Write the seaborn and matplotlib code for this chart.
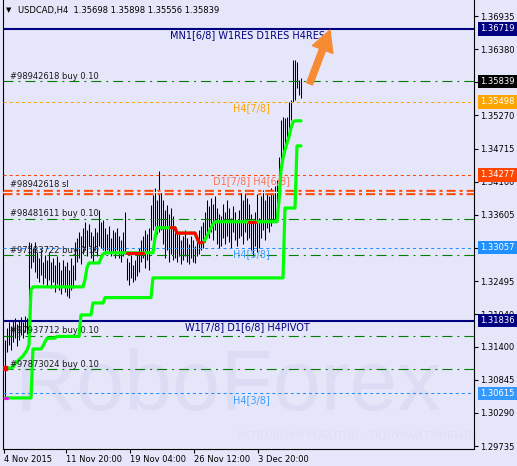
import numpy as np
import pandas as pd
import matplotlib
matplotlib.use("Agg")
import matplotlib.pyplot as plt
import matplotlib.transforms as mtransforms
import seaborn as sns

# ---------------- data ----------------
title_text = "USDCAD,H4  1.35698 1.35898 1.35556 1.35839"

bar_high = [
    1.3151, 1.3171, 1.3181, 1.3174, 1.3184, 1.3188, 1.3178, 1.3184, 1.3189, 1.3181,
    1.3191, 1.3188, 1.3315, 1.3314, 1.3305, 1.3315, 1.3298, 1.3288, 1.3302, 1.3282,
    1.3293, 1.3285, 1.3298, 1.3282, 1.3288, 1.3277, 1.3292, 1.3282, 1.3268, 1.3285,
    1.3275, 1.3282, 1.3268, 1.3288, 1.3277, 1.3315, 1.3322, 1.3332, 1.3325, 1.3339,
    1.3349, 1.3335, 1.3345, 1.3332, 1.3325, 1.3339, 1.3332, 1.3369, 1.3349, 1.3352,
    1.3339, 1.3329, 1.3342, 1.3322, 1.3335, 1.3332, 1.3339, 1.3325, 1.3319, 1.3332,
    1.3365, 1.3288, 1.3282, 1.3293, 1.3277, 1.3285, 1.3298, 1.3305, 1.3319, 1.3325,
    1.3335, 1.3329, 1.3339, 1.3377, 1.3394, 1.3405, 1.3385, 1.3434, 1.3399, 1.3385,
    1.3369, 1.3377, 1.3362, 1.3372, 1.3359, 1.3339, 1.3329, 1.3332, 1.3319, 1.3325,
    1.3335, 1.3322, 1.3312, 1.3325, 1.3319, 1.3308, 1.3322, 1.3335, 1.3342, 1.3349,
    1.3365, 1.3385, 1.3375, 1.3389, 1.3379, 1.3392, 1.3372, 1.3362, 1.3359, 1.3379,
    1.3365, 1.3385, 1.3372, 1.3355, 1.3375, 1.3365, 1.3352, 1.3369, 1.3399, 1.3385,
    1.3402, 1.3389, 1.3379, 1.3362, 1.3352, 1.3365, 1.3395, 1.3355, 1.3392, 1.3402,
    1.3385, 1.3399, 1.3392, 1.3405, 1.3395, 1.3409, 1.3419, 1.3457, 1.3519, 1.3524,
    1.3523, 1.3524, 1.3549, 1.3553, 1.3620, 1.3620, 1.3617, 1.3586, 1.35898,
]
bar_low = [
    1.3054, 1.3131, 1.3143, 1.3134, 1.3148, 1.3154, 1.3141, 1.3151, 1.3159, 1.3154,
    1.3164, 1.3161, 1.3181, 1.3272, 1.3282, 1.3265, 1.3255, 1.3248, 1.3260, 1.3245,
    1.3255, 1.3242, 1.3252, 1.3238, 1.3248, 1.3231, 1.3245, 1.3235, 1.3228, 1.3243,
    1.3231, 1.3225, 1.3222, 1.3235, 1.3238, 1.3252, 1.3282, 1.3288, 1.3278, 1.3295,
    1.3302, 1.3292, 1.3308, 1.3288, 1.3282, 1.3302, 1.3292, 1.3308, 1.3305, 1.3302,
    1.3295, 1.3302, 1.3298, 1.3292, 1.3298, 1.3288, 1.3302, 1.3288, 1.3282, 1.3292,
    1.3295, 1.3252, 1.3243, 1.3255, 1.3248, 1.3252, 1.3258, 1.3265, 1.3282, 1.3288,
    1.3272, 1.3285, 1.3268, 1.3319, 1.3335, 1.3342, 1.3329, 1.3332, 1.3335, 1.3312,
    1.3288, 1.3302, 1.3282, 1.3295, 1.3285, 1.3288, 1.3282, 1.3292, 1.3278, 1.3285,
    1.3292, 1.3282, 1.3278, 1.3288, 1.3282, 1.3280, 1.3292, 1.3295, 1.3302, 1.3305,
    1.3315, 1.3325, 1.3322, 1.3332, 1.3319, 1.3335, 1.3312, 1.3305, 1.3308, 1.3322,
    1.3312, 1.3325, 1.3315, 1.3305, 1.3332, 1.3319, 1.3308, 1.3322, 1.3325, 1.3312,
    1.3332, 1.3319, 1.3322, 1.3302, 1.3292, 1.3308, 1.3298, 1.3305, 1.3322, 1.3335,
    1.3319, 1.3339, 1.3332, 1.3342, 1.3349, 1.3352, 1.3362, 1.3385, 1.3432, 1.3452,
    1.3469, 1.3491, 1.3493, 1.3519, 1.3549, 1.3553, 1.3573, 1.3561, 1.35556,
]

fast_stop = [
    1.3104, 1.3104, 1.3104, 1.3104, 1.3106, 1.3111, 1.3114, 1.3118, 1.3121, 1.3124,
    1.3129, 1.3134, 1.3143, 1.3235, 1.3240, 1.3240, 1.3240, 1.3240, 1.3240, 1.3240,
    1.3240, 1.3240, 1.3240, 1.3240, 1.3240, 1.3240, 1.3240, 1.3240, 1.3240, 1.3240,
    1.3240, 1.3240, 1.3240, 1.3240, 1.3240, 1.3240, 1.3240, 1.3240, 1.3240, 1.3240,
    1.3252, 1.3272, 1.3280, 1.3280, 1.3280, 1.3280, 1.3280, 1.3280, 1.3288, 1.3295,
    1.3297, 1.3297, 1.3297, 1.3297, 1.3297, 1.3297, 1.3297, 1.3297, 1.3297, 1.3297,
    1.3297, 1.3297, 1.3297, 1.3297, 1.3297, 1.3297, 1.3297, 1.3297, 1.3297, 1.3297,
    1.3297, 1.3297, 1.3297, 1.3297, 1.3297, 1.3322, 1.3339, 1.3339, 1.3339, 1.3339,
    1.3339, 1.3339, 1.3339, 1.3339, 1.3339, 1.3339, 1.3330, 1.3330, 1.3330, 1.3330,
    1.3330, 1.3330, 1.3330, 1.3330, 1.3330, 1.3330, 1.3322, 1.3314, 1.3314, 1.3314,
    1.3319, 1.3325, 1.3332, 1.3339, 1.3345, 1.3349, 1.3349, 1.3349, 1.3349, 1.3349,
    1.3349, 1.3349, 1.3349, 1.3349, 1.3349, 1.3349, 1.3349, 1.3349, 1.3349, 1.3349,
    1.3349, 1.3349, 1.3349, 1.3349, 1.3349, 1.3349, 1.3349, 1.3349, 1.3349, 1.3349,
    1.3349, 1.3349, 1.3349, 1.3349, 1.3349, 1.3349, 1.3349, 1.3385, 1.3435, 1.3456,
    1.3469, 1.3481, 1.3491, 1.3506, 1.3516, 1.3518, 1.3518, 1.3518, 1.3518,
]
fast_red_spans = [(61, 69), (83, 99), (122, 125)]
fast_red_points = [0]

slow_stop = [
    1.3054, 1.3054, 1.3054, 1.3054, 1.3054, 1.3054, 1.3054, 1.3054, 1.3054, 1.3054,
    1.3054, 1.3054, 1.3054, 1.3054, 1.3136, 1.3136, 1.3136, 1.3136, 1.3136, 1.3141,
    1.3148, 1.3154, 1.3154, 1.3154, 1.3154, 1.3154, 1.3157, 1.3157, 1.3157, 1.3157,
    1.3157, 1.3157, 1.3157, 1.3157, 1.3157, 1.3157, 1.3157, 1.3157, 1.3193, 1.3193,
    1.3193, 1.3193, 1.3193, 1.3193, 1.3213, 1.3213, 1.3213, 1.3213, 1.3213, 1.3213,
    1.3222, 1.3222, 1.3222, 1.3222, 1.3222, 1.3222, 1.3222, 1.3222, 1.3222, 1.3222,
    1.3222, 1.3222, 1.3222, 1.3222, 1.3222, 1.3222, 1.3222, 1.3222, 1.3222, 1.3222,
    1.3222, 1.3222, 1.3222, 1.3222, 1.3255, 1.3255, 1.3255, 1.3255, 1.3255, 1.3255,
    1.3255, 1.3255, 1.3255, 1.3255, 1.3255, 1.3255, 1.3255, 1.3255, 1.3255, 1.3255,
    1.3255, 1.3255, 1.3255, 1.3255, 1.3255, 1.3255, 1.3255, 1.3255, 1.3255, 1.3255,
    1.3255, 1.3255, 1.3255, 1.3255, 1.3255, 1.3255, 1.3255, 1.3255, 1.3255, 1.3255,
    1.3255, 1.3255, 1.3255, 1.3255, 1.3255, 1.3255, 1.3255, 1.3255, 1.3255, 1.3255,
    1.3255, 1.3255, 1.3255, 1.3255, 1.3255, 1.3255, 1.3255, 1.3255, 1.3255, 1.3255,
    1.3255, 1.3255, 1.3255, 1.3255, 1.3255, 1.3255, 1.3255, 1.3255, 1.3255, 1.3255,
    1.3372, 1.3372, 1.3372, 1.3372, 1.3372, 1.3372, 1.3476, 1.3476, 1.3476,
]
slow_magenta_span = (0, 1)

time_label_bars = [0, 31, 63, 95, 127]
time_labels = ["4 Nov 2015", "11 Nov 20:00", "19 Nov 04:00", "26 Nov 12:00", "3 Dec 20:00"]

price_ticks = [1.36935, 1.36380, 1.35825, 1.35270, 1.34715, 1.34160, 1.33605,
               1.33050, 1.32495, 1.31940, 1.31400, 1.30845, 1.30290, 1.29735]

# Murrey-math levels
murrey_prices = [1.36719, 1.35498, 1.34277, 1.33057, 1.31836, 1.30615]
murrey_colors = ["#000080", "#FFA500", "#FF4500", "#1E90FF", "#000080", "#1E90FF"]
murrey_kind = ["solid", "dot", "dot", "dot", "solid", "dot"]
murrey_labels = ["MN1[6/8] W1RES D1RES H4RES", "H4[7/8]", "D1[7/8] H4[6/8]",
                 "H4[5/8]", "W1[7/8] D1[6/8] H4PIVOT", "H4[3/8]"]
murrey_label_colors = ["#000080", "#FFA500", "#FF7052", "#3C9CFF", "#000080", "#3C9CFF"]

# order lines
order_prices = [1.35839, 1.3354, 1.3293, 1.3158, 1.3102]
order_labels = ["#98942618 buy 0.10", "#98481611 buy 0.10", "#97583722 buy 0.10",
                "#97937712 buy 0.10", "#97873024 buy 0.10"]
sl_price = 1.33995
sl_label = "#98942618 sl"

# right-axis price markers
marker_prices = [1.36719, 1.35839, 1.35498, 1.34277, 1.33057, 1.31836, 1.30615]
marker_colors = ["#000080", "#000000", "#FFA500", "#FF4500", "#1E90FF", "#000080", "#3399FF"]

# ---------------- style ----------------
BG = "#E6E6FA"
sns.set_theme(style="white", rc={"axes.facecolor": BG, "figure.facecolor": BG})
plt.rcParams["font.family"] = ["DejaVu Sans"]
plt.rcParams["lines.scale_dashes"] = False

fig = plt.figure(figsize=(5.17, 4.66), dpi=100, facecolor=BG)
ax = fig.add_axes([3 / 517, 17 / 466, 471 / 517, 449 / 466])
ax.set_facecolor("none")

idx = np.arange(len(bar_high))
df = pd.DataFrame({"bar": idx, "high": bar_high, "low": bar_low,
                   "fast": fast_stop, "slow": slow_stop})

# price bars
ax.vlines(df["bar"], df["low"], df["high"], color="black", lw=0.75, zorder=3)

# horizontal levels
green_dd = (0, (7.2, 3.6, 1.4, 3.6))
dot = (0, (2.2, 2.2))
for p, c, k in zip(murrey_prices, murrey_colors, murrey_kind):
    if k == "solid":
        ax.axhline(p, color=c, lw=1.5, zorder=4)
    else:
        ax.axhline(p, color=c, lw=0.75, ls=dot, zorder=4)
for p in order_prices:
    ax.axhline(p, color="#008000", lw=0.8, ls=green_dd, zorder=4)
ax.axhline(sl_price, color="#FF4500", lw=3.8, ls=(0, (6.5, 2.9, 2.2, 2.9)), zorder=4)
ax.axhline(sl_price, color=BG, lw=1.0, zorder=4)

# indicator lines
sns.lineplot(data=df, x="bar", y="slow", ax=ax, color="#00FF00", lw=2.3,
             estimator=None, sort=False, legend=False, zorder=5)
sns.lineplot(data=df, x="bar", y="fast", ax=ax, color="#00FF00", lw=2.3,
             estimator=None, sort=False, legend=False, zorder=5)
for a, b in fast_red_spans:
    seg = df.iloc[a:b + 1]
    sns.lineplot(data=seg, x="bar", y="fast", ax=ax, color="#FF0000", lw=2.3,
                 estimator=None, sort=False, legend=False, zorder=6)
for a in fast_red_points:
    ax.plot(df["bar"][a], df["fast"][a], "s", color="#FF0000", ms=2.2, zorder=6)
a, b = slow_magenta_span
seg = df.iloc[a:b + 1]
sns.lineplot(data=seg, x="bar", y="slow", ax=ax, color="#FF00FF", lw=2.3,
             estimator=None, sort=False, legend=False, zorder=6)

# axes limits / ticks
ax.set_xlim(-1, 234.5)
ax.set_ylim(1.29685, 1.37203)
ax.set_xticks([b - 0.5 for b in time_label_bars])
ax.set_xticklabels(time_labels)
for lab in ax.get_xticklabels():
    lab.set_ha("left")
ax.yaxis.tick_right()
ax.set_yticks(price_ticks)
ax.set_yticklabels([f"{p:.5f}" for p in price_ticks])
ax.tick_params(axis="x", bottom=True, direction="out", length=3, width=0.8,
               labelsize=6, pad=1.5, colors="black")
ax.tick_params(axis="y", right=True, left=False, direction="out", length=3,
               width=0.8, labelsize=6, pad=1.5, colors="black")
for s in ["left", "bottom", "right"]:
    ax.spines[s].set_visible(True)
    ax.spines[s].set_color("black")
    ax.spines[s].set_linewidth(0.8)
ax.spines["top"].set_visible(False)
ax.set_xlabel("")
ax.set_ylabel("")
ax.grid(False)

blend = mtransforms.blended_transform_factory(ax.transAxes, ax.transData)

# order labels (above their lines)
for p, t in zip(order_prices, order_labels):
    ax.annotate(t, xy=(0.015, p), xycoords=blend, xytext=(0, 0.3),
                textcoords="offset points", va="bottom", ha="left",
                fontsize=6, color="#1a1a1a", zorder=7)
ax.annotate(sl_label, xy=(0.015, sl_price), xycoords=blend, xytext=(0, 2.2),
            textcoords="offset points", va="bottom", ha="left",
            fontsize=6, color="#1a1a1a", zorder=7)

# murrey labels (below their lines)
murrey_label_x = [0.6837, 0.4883, 0.4459, 0.4883, 0.6518, 0.4883]
murrey_label_ha = ["right", "left", "left", "left", "right", "left"]
for p, t, c, xx, ha in zip(murrey_prices, murrey_labels, murrey_label_colors,
                           murrey_label_x, murrey_label_ha):
    ax.annotate(t, xy=(xx, p), xycoords=blend, xytext=(0, -1.2),
                textcoords="offset points", va="top", ha=ha,
                fontsize=7, color=c, zorder=7)

# right-axis price markers
for p, c in zip(marker_prices, marker_colors):
    ax.text(1.0125, p, f"{p:.5f}", transform=blend, va="center", ha="left",
            fontsize=6, color="white", clip_on=False, zorder=20,
            bbox=dict(boxstyle="square,pad=0.28", fc=c, ec="none"))

# orange arrow
ax.annotate("", xy=(162.5, 1.3670), xytext=(152.3, 1.3580),
            arrowprops=dict(arrowstyle="simple,head_length=1.0,head_width=1.05,tail_width=0.3",
                            color="#F68B34", mutation_scale=15, shrinkA=0, shrinkB=0),
            zorder=8)

# title
fig.text(6 / 517, 1 - 10 / 466, "\u25BC", fontsize=5, va="center", ha="left", color="black")
fig.text(18 / 517, 1 - 10 / 466, title_text, fontsize=6, va="center", ha="left", color="black")

# watermark (very faint)
fig.text(15 / 517, 1 - 388 / 466, "RoboForex", fontsize=62, family="Liberation Sans",
         color="#DCDCF5", va="center", ha="left", zorder=-5)
fig.text(237 / 517, 1 - 436 / 466, "ИСПОЛЬЗУЙ РОБОТОВ – ПОЛУЧАЙ ПРИБЫЛЬ", fontsize=7.5,
         color="#DEDEF6", va="center", ha="left", zorder=-5)

fig.savefig("out.png", dpi=100, facecolor=BG)
